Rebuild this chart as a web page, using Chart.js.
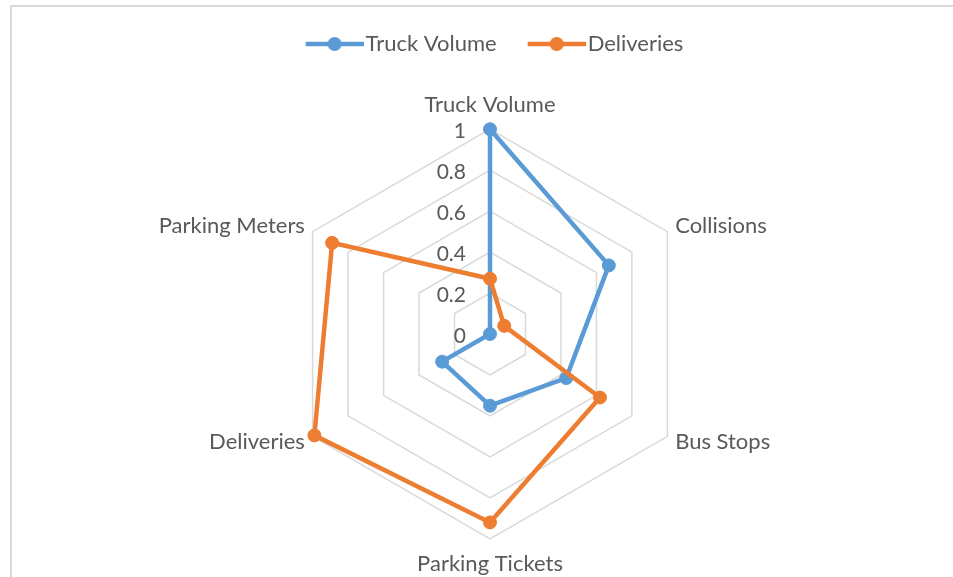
<!DOCTYPE html>
<html>
<head>
<meta charset="utf-8">
<script src="https://cdn.jsdelivr.net/npm/chart.js@4.4.0/dist/chart.umd.min.js"></script>
<style>
  html, body { margin: 0; padding: 0; background: #fff; overflow: hidden; }
  #frame {
    position: absolute; left: 10px; top: 5px; width: 1000px; height: 600px;
    border-left: 2px solid #d9d9d9; border-top: 2px solid #d9d9d9;
  }
  #chart { position: absolute; left: 0; top: 0; }
</style>
</head>
<body>
<div id="frame"></div>
<canvas id="chart" width="953" height="577"></canvas>
<script>
const axes = ['Truck Volume', 'Collisions', 'Bus Stops', 'Parking Tickets', 'Deliveries', 'Parking Meters'];
const truckVolume = [1, 0.67, 0.43, 0.35, 0.27, 0];
const deliveries = [0.27, 0.08, 0.62, 0.92, 0.99, 0.89];
const tickValues = [0, 0.2, 0.4, 0.6, 0.8, 1];
const tickLabels = ['0', '0.2', '0.4', '0.6', '0.8', '1'];

const BLUE = '#5b9bd5';
const ORANGE = '#ed7d31';
const TEXT = '#595959';
const FONT = 'Lato';

// line-with-marker swatch for the legend; the line sits in the right part
// of the image so the text follows it closely
function legendMarker(color) {
  const c = document.createElement('canvas');
  c.width = 92; c.height = 16;
  const g = c.getContext('2d');
  g.strokeStyle = color;
  g.lineWidth = 4.5;
  g.beginPath(); g.moveTo(34, 8); g.lineTo(92, 8); g.stroke();
  g.fillStyle = color;
  g.beginPath(); g.arc(63, 8, 7, 0, Math.PI * 2); g.fill();
  return c;
}

// value labels sit to the left of the vertical axis
const tickLabelPlugin = {
  id: 'tickLabels',
  beforeDatasetsDraw(chart) {
    const r = chart.scales.r;
    const ctx = chart.ctx;
    ctx.save();
    ctx.font = '21px ' + FONT;
    ctx.fillStyle = TEXT;
    ctx.textAlign = 'right';
    ctx.textBaseline = 'middle';
    tickValues.forEach((v, i) => {
      ctx.fillText(tickLabels[i], r.xCenter - 24, r.yCenter - r.getDistanceFromCenterForValue(v) + 2);
    });
    ctx.restore();
  }
};

// extra room under the legend, and nudge the legend row a bit left
const legendGap = {
  id: 'legendGap',
  beforeInit(chart) {
    const fit = chart.legend.fit;
    chart.legend.fit = function () {
      fit.bind(chart.legend)();
      this.height += 40;
    };
  },
  afterLayout(chart) {
    chart.legend.left -= 8;
    chart.legend.right -= 8;
  }
};

const markers = [legendMarker(BLUE), legendMarker(ORANGE)];

new Chart(document.getElementById('chart'), {
  type: 'radar',
  data: {
    labels: axes,
    datasets: [{
      label: 'Truck Volume',
      data: truckVolume,
      borderColor: BLUE,
      backgroundColor: BLUE,
      pointBackgroundColor: BLUE,
      borderWidth: 4.5,
      pointRadius: 6.5,
      pointBorderWidth: 1,
      fill: false,
      order: 1
    }, {
      label: 'Deliveries',
      data: deliveries,
      borderColor: ORANGE,
      backgroundColor: ORANGE,
      pointBackgroundColor: ORANGE,
      borderWidth: 4.5,
      pointRadius: 6.5,
      pointBorderWidth: 1,
      fill: false,
      order: 0
    }]
  },
  options: {
    responsive: false,
    animation: false,
    layout: { padding: { top: 27, left: 40, right: 13, bottom: 11 } },
    elements: { line: { tension: 0 } },
    plugins: {
      tooltip: { enabled: false },
      legend: {
        position: 'top',
        labels: {
          usePointStyle: true,
          pointStyleWidth: 74,
          padding: 6,
          color: TEXT,
          font: { family: FONT, size: 22 },
          sort: (a, b) => a.datasetIndex - b.datasetIndex,
          generateLabels(chart) {
            return chart.data.datasets.map((ds, i) => ({
              text: ds.label,
              datasetIndex: i,
              pointStyle: markers[i],
              fontColor: TEXT,
              lineWidth: 0,
              hidden: false
            }));
          }
        }
      }
    },
    scales: {
      r: {
        min: 0,
        max: 1,
        ticks: { stepSize: 0.2, display: false },
        angleLines: { display: false },
        grid: { color: '#d9d9d9', lineWidth: 1.5 },
        pointLabels: {
          color: TEXT,
          // thin line box so side labels are centred on their spoke
          padding: (ctx) => [23, 9, 9, 24, 9, 9][ctx.index],
          font: { family: FONT, size: 22, lineHeight: 0.1 }
        }
      }
    }
  },
  plugins: [tickLabelPlugin, legendGap]
});
</script>
</body>
</html>
